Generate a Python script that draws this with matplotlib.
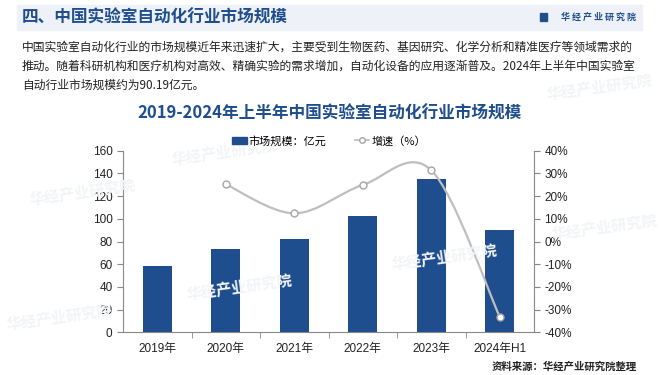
import matplotlib.pyplot as plt
import numpy as np
from matplotlib.patches import Rectangle, Patch, PathPatch
from matplotlib.lines import Line2D
from matplotlib.path import Path

plt.rcParams['font.family'] = ['Liberation Sans', 'Noto Sans CJK SC', 'DejaVu Sans']

# data
years = ['2019年', '2020年', '2021年', '2022年', '2023年', '2024年H1']
market = [58.4, 73.1, 82.2, 102.7, 135.0, 90.19]      # 亿元
growth = [None, 25.2, 12.4, 24.9, 31.4, -33.2]        # %

BLUE = '#1F4E8F'
DARK = '#1F4E8C'
GREY_LINE = '#BFBFBF'
W, H = 660, 375


def fx(px):
    return px / W


def fy(py):
    return 1 - py / H


def smooth_path(xs, ys):
    # excel-like smoothed line: catmull-rom turned into cubic bezier segments
    pts = np.column_stack([xs, ys])
    verts = [pts[0]]
    codes = [Path.MOVETO]
    n = len(pts)
    for i in range(n - 1):
        p0 = pts[i - 1] if i > 0 else pts[i]
        p1, p2 = pts[i], pts[i + 1]
        p3 = pts[i + 2] if i + 2 < n else pts[i + 1]
        c1 = p1 + (p2 - p0) / 6
        c2 = p2 - (p3 - p1) / 6
        verts += [c1, c2, p2]
        codes += [Path.CURVE4] * 3
    return Path(verts, codes)


fig = plt.figure(figsize=(6.6, 3.75), dpi=100)
fig.patch.set_facecolor('white')

# header band
fig.patches.append(Rectangle((fx(17), fy(30)), fx(625), 25 / H,
                             transform=fig.transFigure, color='#EEF2F8', zorder=0))
fig.text(fx(22), fy(17.5), '四、中国实验室自动化行业市场规模', fontsize=12,
         fontweight='bold', color=DARK, va='center', ha='left',
         family='Noto Sans CJK SC')
fig.patches.append(Rectangle((fx(540), fy(21)), fx(2.5), 8 / H,
                             transform=fig.transFigure, color=DARK))
fig.patches.append(Rectangle((fx(544), fy(21)), fx(2.5), 8 / H,
                             transform=fig.transFigure, color=DARK))
fig.text(fx(636), fy(17), '华 经 产 业 研 究 院', fontsize=6.5, fontweight='bold',
         color=DARK, va='center', ha='right', family='Noto Sans CJK SC')

# body text
body = ['中国实验室自动化行业的市场规模近年来迅速扩大，主要受到生物医药、基因研究、化学分析和精准医疗等领域需求的',
        '推动。随着科研机构和医疗机构对高效、精确实验的需求增加，自动化设备的应用逐渐普及。2024年上半年中国实验室',
        '自动行业市场规模约为90.19亿元。']
for i, line in enumerate(body):
    fig.text(fx(22), fy(47 + 19 * i), line, fontsize=8.5, color='#222222',
             va='center', ha='left', family='Noto Sans CJK SC')

# watermarks
for (x, y) in [(28, 205), (170, 165), (185, 300), (5, 330), (390, 270), (550, 240), (545, 100)]:
    fig.text(fx(x), fy(y), '华经产业研究院', fontsize=11, fontweight='bold',
             color='#F2F4F7', rotation=8, family='Noto Sans CJK SC', zorder=0)

fig.text(fx(330), fy(114), '2019-2024年上半年中国实验室自动化行业市场规模', fontsize=12,
         fontweight='bold', color=DARK, ha='center', va='center',
         family='Noto Sans CJK SC')

# chart
ax = fig.add_axes([fx(123), fy(332.3), fx(534 - 123), (332.3 - 150.7) / H])
ax.patch.set_alpha(0)
x = np.arange(len(years))
ax.bar(x, market, width=0.43, color=BLUE, zorder=2)
ax.set_xlim(-0.5, len(years) - 0.5)
ax.set_ylim(0, 160)
ax.set_yticks(np.arange(0, 161, 20))
ax.set_xticks(x)
ax.set_xticklabels(years)
ax.set_xticks(np.arange(0.5, len(years) - 0.5, 1), minor=True)
ax.tick_params(axis='x', which='major', length=0, pad=8, labelsize=8.5, labelcolor='#222222')
ax.tick_params(axis='x', which='minor', length=4, color='#888888')
ax.tick_params(axis='y', length=4, color='#888888', labelsize=8.5, labelcolor='#222222')
for s in ['top', 'right']:
    ax.spines[s].set_visible(False)
for s in ['left', 'bottom']:
    ax.spines[s].set_color('#888888')

ax2 = ax.twinx()
ax2.set_ylim(-40, 40)
ax2.set_yticks(np.arange(-40, 41, 10))
ax2.set_yticklabels([f'{v}%' for v in range(-40, 41, 10)])
ax2.tick_params(axis='y', length=4, color='#888888', labelsize=8.5, labelcolor='#222222')
for s in ['top', 'left', 'bottom']:
    ax2.spines[s].set_visible(False)
ax2.spines['right'].set_color('#888888')

gx = [xi for xi, g in zip(x, growth) if g is not None]
gy = [g for g in growth if g is not None]
ax2.add_patch(PathPatch(smooth_path(gx, gy), facecolor='none',
                        edgecolor=GREY_LINE, lw=1.6, zorder=3))
ax2.plot(gx, gy, ls='none', marker='o', ms=5, mfc='white', mec='#A6A6A6',
         mew=1, zorder=4)

handles = [Patch(color=BLUE),
           Line2D([], [], color=GREY_LINE, lw=1.2, marker='o', ms=4,
                  mfc='white', mec='#A6A6A6')]
fig.legend(handles, ['市场规模：亿元', '增速（%）'], loc='center',
           bbox_to_anchor=(fx(329), fy(141)), ncol=2, frameon=False,
           columnspacing=2.5, handlelength=1.3, handletextpad=0.2,
           prop={'family': 'Noto Sans CJK SC', 'size': 8})

fig.text(fx(637), fy(367), '资料来源：华经产业研究院整理', fontsize=7.5,
         fontweight='bold', color='#222222', ha='right', va='center',
         family='Noto Sans CJK SC')

fig.savefig('out.png', dpi=100)
